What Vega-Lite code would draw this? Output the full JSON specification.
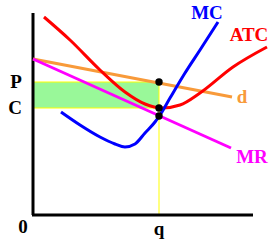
{
  "$schema": "https://vega.github.io/schema/vega-lite/v6.json",
  "width": 275,
  "height": 245,
  "padding": 0,
  "autosize": {"type": "none"},
  "background": "white",
  "config": {"view": {"stroke": null}},
  "datasets": {
    "curves": [
      {"s": "d", "i": 0, "x": 0, "y": 156},
      {"s": "d", "i": 1, "x": 199, "y": 118},
      {"s": "MR", "i": 0, "x": 0, "y": 156},
      {"s": "MR", "i": 1, "x": 198, "y": 67},
      {"s": "ATC", "i": 0, "x": 11, "y": 198},
      {"s": "ATC", "i": 1, "x": 37, "y": 175},
      {"s": "ATC", "i": 2, "x": 67, "y": 145},
      {"s": "ATC", "i": 3, "x": 92, "y": 123},
      {"s": "ATC", "i": 4, "x": 112, "y": 111},
      {"s": "ATC", "i": 5, "x": 129, "y": 107},
      {"s": "ATC", "i": 6, "x": 147, "y": 110},
      {"s": "ATC", "i": 7, "x": 167, "y": 122},
      {"s": "ATC", "i": 8, "x": 200, "y": 148},
      {"s": "ATC", "i": 9, "x": 234, "y": 168},
      {"s": "MC", "i": 0, "x": 28, "y": 103},
      {"s": "MC", "i": 1, "x": 47, "y": 90},
      {"s": "MC", "i": 2, "x": 67, "y": 78},
      {"s": "MC", "i": 3, "x": 82, "y": 71},
      {"s": "MC", "i": 4, "x": 92, "y": 68},
      {"s": "MC", "i": 5, "x": 102, "y": 71},
      {"s": "MC", "i": 6, "x": 112, "y": 82},
      {"s": "MC", "i": 7, "x": 122, "y": 93},
      {"s": "MC", "i": 8, "x": 127, "y": 100},
      {"s": "MC", "i": 9, "x": 137, "y": 117},
      {"s": "MC", "i": 10, "x": 152, "y": 142},
      {"s": "MC", "i": 11, "x": 167, "y": 165},
      {"s": "MC", "i": 12, "x": 185, "y": 193}
    ],
    "labels": [
      {"t": "MC", "s": "MC", "x": 174, "y": 202},
      {"t": "ATC", "s": "ATC", "x": 216, "y": 180},
      {"t": "d", "s": "d", "x": 209, "y": 118},
      {"t": "MR", "s": "MR", "x": 219, "y": 58},
      {"t": "P", "s": "axis", "x": -17, "y": 133},
      {"t": "C", "s": "axis", "x": -18, "y": 107},
      {"t": "0", "s": "axis", "x": -10, "y": -12},
      {"t": "q", "s": "axis", "x": 126, "y": -14}
    ]
  },
  "encoding": {
    "x": {"field": "x", "type": "quantitative", "scale": {"domain": [-33, 242], "nice": false, "zero": false}, "axis": null},
    "y": {"field": "y", "type": "quantitative", "scale": {"domain": [-30, 215], "nice": false, "zero": false}, "axis": null}
  },
  "layer": [
    {
      "data": {"values": [{"x": 0, "x2": 126, "y": 107, "y2": 133}]},
      "mark": {"type": "rect", "color": "#99f899"},
      "encoding": {"x2": {"field": "x2"}, "y2": {"field": "y2"}}
    },
    {
      "data": {"values": [
        {"x": 0, "x2": 126, "y": 133, "y2": 133},
        {"x": 0, "x2": 126, "y": 107, "y2": 107},
        {"x": 126, "x2": 126, "y": 0, "y2": 133}
      ]},
      "mark": {"type": "rule", "color": "#ffff00", "strokeWidth": 1},
      "encoding": {"x2": {"field": "x2"}, "y2": {"field": "y2"}}
    },
    {
      "data": {"values": [
        {"x": 0, "x2": 0, "y": 0, "y2": 202},
        {"x": -1, "x2": 220, "y": 0, "y2": 0}
      ]},
      "mark": {"type": "rule", "color": "black", "strokeWidth": 3},
      "encoding": {"x2": {"field": "x2"}, "y2": {"field": "y2"}}
    },
    {
      "data": {"name": "curves"},
      "mark": {"type": "line", "strokeWidth": 3, "interpolate": "monotone"},
      "encoding": {
        "color": {"field": "s", "type": "nominal", "legend": null,
          "scale": {"domain": ["d", "MR", "ATC", "MC", "axis"], "range": ["#f89a3a", "#ff00ff", "#ff0000", "#0000ff", "#000000"]}},
        "order": {"field": "i", "type": "quantitative"}
      }
    },
    {
      "data": {"values": [{"x": 126, "y": 133}, {"x": 126, "y": 107}, {"x": 126, "y": 99}]},
      "mark": {"type": "point", "filled": true, "color": "black", "opacity": 1, "size": 55}
    },
    {
      "data": {"name": "labels"},
      "mark": {"type": "text", "font": "Liberation Serif", "fontWeight": "bold", "fontSize": 19, "align": "center", "baseline": "middle"},
      "encoding": {
        "text": {"field": "t"},
        "color": {"field": "s", "type": "nominal", "legend": null}
      }
    }
  ]
}
